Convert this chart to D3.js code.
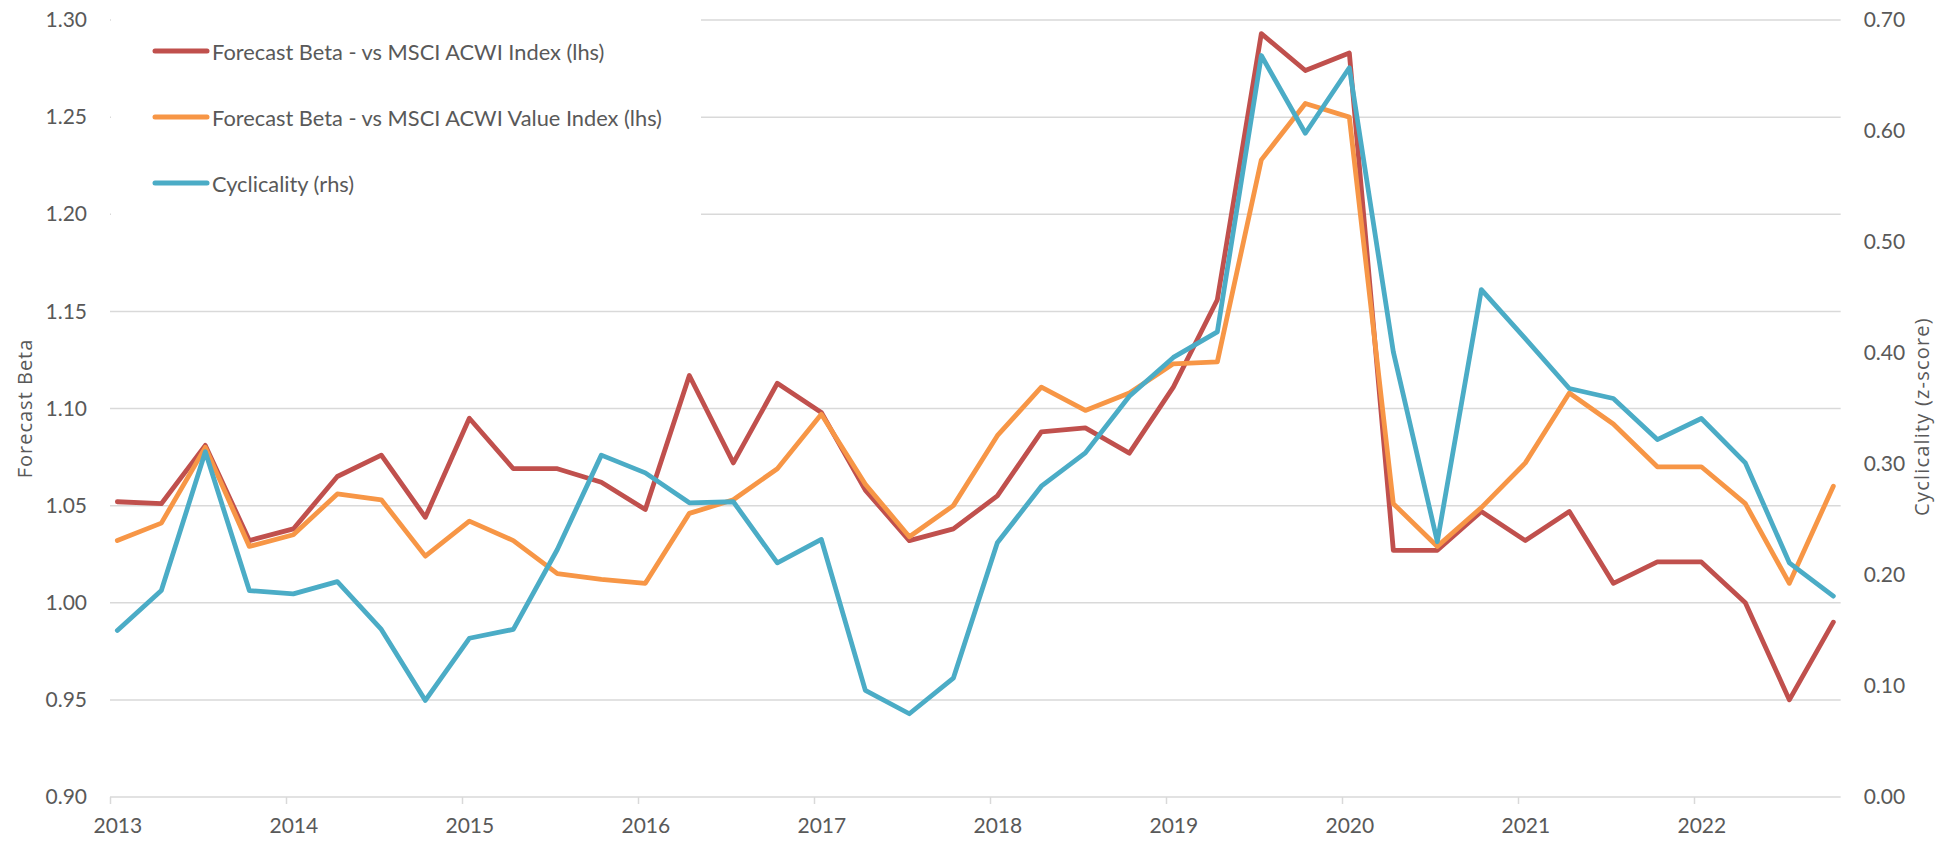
<!DOCTYPE html>
<html>
<head>
<meta charset="utf-8">
<script src="https://cdn.jsdelivr.net/npm/d3@7"></script>
<style>
  body { margin: 0; background: #fff; }
  text { font-family: Lato, "Liberation Sans", sans-serif; fill: #595959; }
</style>
</head>
<body>
<div id="chart"></div>
<script>
// quarterly observations (first month of each quarter)
const quarters = [
  "2013-01","2013-04","2013-07","2013-10","2014-01","2014-04","2014-07","2014-10",
  "2015-01","2015-04","2015-07","2015-10","2016-01","2016-04","2016-07","2016-10",
  "2017-01","2017-04","2017-07","2017-10","2018-01","2018-04","2018-07","2018-10",
  "2019-01","2019-04","2019-07","2019-10","2020-01","2020-04","2020-07","2020-10",
  "2021-01","2021-04","2021-07","2021-10","2022-01","2022-04","2022-07","2022-10"
];
const betaAcwi = [
  1.052, 1.051, 1.081, 1.032, 1.038, 1.065, 1.076, 1.044,
  1.095, 1.069, 1.069, 1.062, 1.048, 1.117, 1.072, 1.113,
  1.098, 1.058, 1.032, 1.038, 1.055, 1.088, 1.090, 1.077,
  1.111, 1.156, 1.293, 1.274, 1.283, 1.027, 1.027, 1.047,
  1.032, 1.047, 1.010, 1.021, 1.021, 1.000, 0.950, 0.990
];
const betaValue = [
  1.032, 1.041, 1.080, 1.029, 1.035, 1.056, 1.053, 1.024,
  1.042, 1.032, 1.015, 1.012, 1.010, 1.046, 1.053, 1.069,
  1.097, 1.061, 1.034, 1.050, 1.086, 1.111, 1.099, 1.108,
  1.123, 1.124, 1.228, 1.257, 1.250, 1.051, 1.029, 1.049,
  1.072, 1.108, 1.092, 1.070, 1.070, 1.051, 1.010, 1.060
];
const cyclicality = [
  0.150, 0.186, 0.311, 0.186, 0.183, 0.194, 0.151, 0.087,
  0.143, 0.151, 0.223, 0.308, 0.292, 0.265, 0.266, 0.211,
  0.232, 0.096, 0.075, 0.107, 0.229, 0.280, 0.310, 0.361,
  0.396, 0.419, 0.668, 0.598, 0.657, 0.401, 0.230, 0.457,
  0.413, 0.368, 0.359, 0.322, 0.341, 0.301, 0.211, 0.181
];
const years = [2013, 2014, 2015, 2016, 2017, 2018, 2019, 2020, 2021, 2022];
const leftTicks = [0.90, 0.95, 1.00, 1.05, 1.10, 1.15, 1.20, 1.25, 1.30];
const rightTicks = [0.00, 0.10, 0.20, 0.30, 0.40, 0.50, 0.60, 0.70];
const seriesNames = [
  "Forecast Beta - vs MSCI ACWI Index (lhs)",
  "Forecast Beta - vs MSCI ACWI Value Index (lhs)",
  "Cyclicality (rhs)"
];
const colors = ["#C0504D", "#F79646", "#4BACC6"];

const W = 1949, H = 842;
const left = 110, monthW = 176 / 12;
const startYear = years[0];

// month index since Jan 2013 (date axis with monthly base unit)
const monthIdx = s => (+s.slice(0, 4) - startYear) * 12 + (+s.slice(5, 7) - 1);
const lastMonth = monthIdx(quarters[quarters.length - 1]) + 1;

const x = d3.scaleLinear().domain([0, lastMonth]).range([left, left + lastMonth * monthW]);
const yL = d3.scaleLinear().domain([0.90, 1.30]).range([797, 20]);
const yR = d3.scaleLinear().domain([0, 0.70]).range([797, 20]);
const right = x.range()[1];

const svg = d3.select("#chart").append("svg")
  .attr("width", W).attr("height", H)
  .style("background", "#fff");

// gridlines
svg.append("g")
  .selectAll("line")
  .data(leftTicks)
  .enter().append("line")
  .attr("x1", left).attr("x2", right)
  .attr("y1", d => yL(d)).attr("y2", d => yL(d))
  .attr("stroke", "#D9D9D9").attr("stroke-width", 1.5);

// bottom axis
const xAxis = svg.append("g")
  .attr("transform", `translate(0, ${yL(0.90)})`)
  .call(d3.axisBottom(x)
    .tickValues(years.map(y => (y - startYear) * 12))
    .tickSize(7).tickSizeOuter(0).tickPadding(14)
    .tickFormat((d, i) => years[i]));
xAxis.select(".domain").remove();
xAxis.selectAll(".tick line").attr("stroke", "#D9D9D9").attr("stroke-width", 1.5);
xAxis.selectAll("text")
  .attr("dx", monthW / 2)
  .style("font-size", "21px")
  .style("fill", "#595959");

// left axis labels
const yAxisL = svg.append("g")
  .attr("transform", `translate(${left}, 0)`)
  .call(d3.axisLeft(yL).tickValues(leftTicks).tickSize(0).tickPadding(23)
    .tickFormat(d3.format(".2f")));
yAxisL.select(".domain").remove();
yAxisL.selectAll("text").style("font-size", "21px").style("fill", "#595959");

// right axis labels
const yAxisR = svg.append("g")
  .attr("transform", `translate(${right}, 0)`)
  .call(d3.axisRight(yR).tickValues(rightTicks).tickSize(0).tickPadding(23)
    .tickFormat(d3.format(".2f")));
yAxisR.select(".domain").remove();
yAxisR.selectAll("text").style("font-size", "21px").style("fill", "#595959");

// axis titles
svg.append("text")
  .attr("transform", `translate(24, ${(yL(0.9) + yL(1.3)) / 2}) rotate(-90)`)
  .attr("text-anchor", "middle").attr("dominant-baseline", "central")
  .style("font-family", "'Open Sans', sans-serif")
  .style("font-size", "20px").style("letter-spacing", "1px")
  .text("Forecast Beta");

svg.append("text")
  .attr("transform", `translate(1921, ${(yR(0) + yR(0.7)) / 2 + 8}) rotate(-90)`)
  .attr("text-anchor", "middle").attr("dominant-baseline", "central")
  .style("font-family", "'Open Sans', sans-serif")
  .style("font-size", "20px").style("letter-spacing", "1.2px")
  .text("Cyclicality (z-score)");

// lines
const series = [
  { values: betaAcwi, y: yL },
  { values: betaValue, y: yL },
  { values: cyclicality, y: yR }
];
series.forEach((s, k) => {
  const line = d3.line()
    .x((d, i) => x(monthIdx(quarters[i]) + 0.5))
    .y(d => s.y(d));
  svg.append("path")
    .datum(s.values)
    .attr("d", line)
    .attr("fill", "none")
    .attr("stroke", colors[k])
    .attr("stroke-width", 4.8)
    .attr("stroke-linejoin", "round")
    .attr("stroke-linecap", "round");
});

// legend (white box covers the gridlines behind it)
const legend = svg.append("g");
legend.append("rect")
  .attr("x", left + 1).attr("y", 8)
  .attr("width", 590).attr("height", 222)
  .attr("fill", "#fff");
seriesNames.forEach((name, i) => {
  const ly = 51 + i * 66;
  legend.append("line")
    .attr("x1", 155).attr("x2", 207)
    .attr("y1", ly).attr("y2", ly)
    .attr("stroke", colors[i]).attr("stroke-width", 5)
    .attr("stroke-linecap", "round");
  legend.append("text")
    .attr("x", 212).attr("y", ly)
    .attr("dominant-baseline", "central")
    .style("font-size", "21.8px")
    .text(name);
});
</script>
</body>
</html>
